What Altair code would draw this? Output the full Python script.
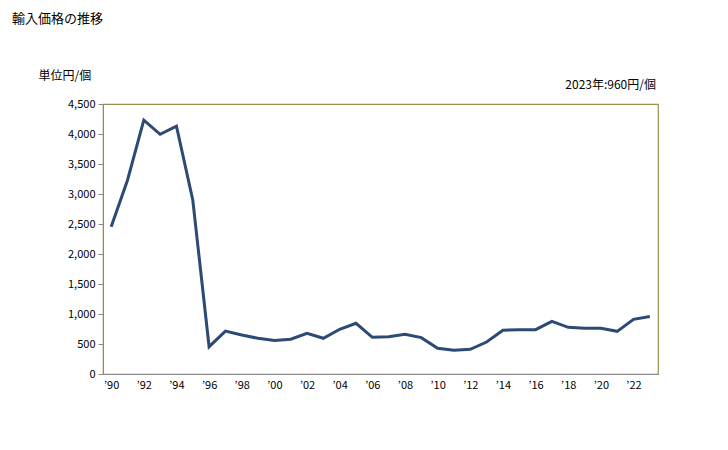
import altair as alt
import pandas as pd

years = list(range(1990, 2024))
values = [2455, 3230, 4230, 3995, 4130, 2900, 455, 715, 650, 595,
          560, 580, 678, 595, 745, 845, 611, 622, 661, 606,
          428, 394, 411, 533, 728, 739, 739, 878, 778, 761,
          761, 711, 911, 960]
title_text = "輸入価格の推移"
unit_text = "単位円/個"

df = pd.DataFrame({"year": years, "value": values})

FONT = "Noto Sans CJK JP"
W, H = 555, 270

base = alt.Chart(df)

line = base.mark_line(color="#2c4a74", strokeWidth=3).encode(
    x=alt.X("year:O",
            scale=alt.Scale(type="point", padding=0.5),
            axis=alt.Axis(
                title=None,
                values=[y for y in years if y % 2 == 0],
                labelExpr="'\u2019' + slice(toString(datum.value), 2)",
                labelAngle=0,
                ticks=False,
                domainColor="#888888",
                labelFont=FONT, labelFontSize=11, labelColor="#000000",
                labelPadding=5)),
    y=alt.Y("value:Q",
            scale=alt.Scale(domain=[0, 4500], nice=False),
            axis=alt.Axis(
                title=unit_text,
                titleAngle=0, titleAlign="left", titleBaseline="middle",
                titleX=-65, titleY=-29,
                titleFont=FONT, titleFontSize=12, titleFontWeight="normal",
                titleColor="#000000",
                values=list(range(0, 4501, 500)),
                format=",.0f",
                grid=False,
                tickSize=5, tickColor="#888888",
                domainColor="#888888",
                labelFont=FONT, labelFontSize=11, labelColor="#000000",
                labelPadding=3)),
)

note = base.transform_filter(alt.datum.year == 2023).transform_calculate(
    label="toString(datum.year) + '年:' + toString(datum.value) + '円/個'"
).mark_text(align="right", baseline="middle", font=FONT, fontSize=12, color="#000000").encode(
    x=alt.value(W - 2), y=alt.value(-19), text="label:N")

head = base.transform_filter(alt.datum.year == 1990).mark_text(
    align="left", baseline="middle", font=FONT, fontSize=13, color="#000000"
).encode(x=alt.value(-91), y=alt.value(-85), text=alt.value(title_text))

chart = alt.layer(line, note, head).properties(
    width=W, height=H,
    autosize=alt.AutoSizeParams(type="none"),
    padding={"left": 95, "top": 96, "right": 60, "bottom": 50},
).configure(
    background="#ffffff",
    view=alt.ViewConfig(stroke="#9c8f4c", strokeWidth=1.2),
)

chart.save("out.html", embed_options={"renderer": "svg", "actions": False})
